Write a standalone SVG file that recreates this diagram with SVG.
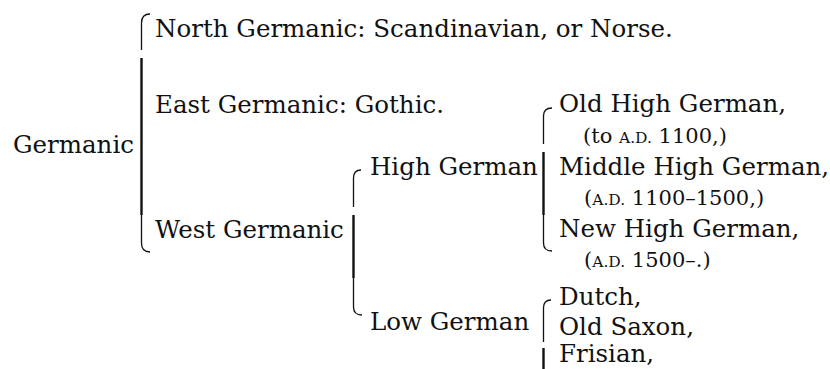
<svg xmlns="http://www.w3.org/2000/svg" width="830" height="369" viewBox="0 0 830 369">
<style>
text{font-family:"DejaVu Serif","Liberation Serif",serif;fill:#111;font-size:24.5px}
.s{font-size:21px}
.sc{font-size:15.5px}
.thin{fill:none;stroke:#111;stroke-width:1.3}
.thick{fill:none;stroke:#111;stroke-width:2.4}
</style>
<rect width="830" height="369" fill="#fff"/>
<g id="connectors">
<g id="brace-germanic">
<path class="thin" d="M150,14 Q141.5,14 141.5,23 L141.5,50"/>
<path class="thick" d="M141.5,58 L141.5,215"/>
<path class="thin" d="M141.5,215 L141.5,243 Q141.5,252 150,252"/>
</g>
<g id="brace-west">
<path class="thin" d="M361,170 Q353.5,170 353.5,178 L353.5,207"/>
<path class="thick" d="M353.5,215 L353.5,278"/>
<path class="thin" d="M353.5,278 L353.5,307 Q353.5,315 362,315"/>
</g>
<g id="brace-high">
<path class="thin" d="M552,108 Q543.5,108 543.5,116 L543.5,144"/>
<path class="thick" d="M543.5,152 L543.5,215"/>
<path class="thin" d="M543.5,215 L543.5,243 Q543.5,251 552,251"/>
</g>
<g id="brace-low">
<path class="thin" d="M551,300 Q543.5,300 543.5,308 L543.5,342"/>
<path class="thick" d="M543.5,348 L543.5,369"/>
</g>
</g>
<g id="germanic"><text x="13" y="153">Germanic</text></g>
<g id="north"><text x="155" y="37">North Germanic: Scandinavian, or Norse.</text></g>
<g id="east"><text x="155" y="113">East Germanic: Gothic.</text></g>
<g id="west"><text x="155" y="238">West Germanic</text></g>
<g id="high-german"><text x="370" y="175">High German</text></g>
<g id="low-german"><text x="370" y="330">Low German</text></g>
<g id="old-high-german">
<text x="559" y="112">Old High German,</text>
<text class="s" x="583" y="143">(to <tspan class="sc">A.D.</tspan> 1100,)</text>
</g>
<g id="middle-high-german">
<text x="559" y="175">Middle High German,</text>
<text class="s" x="584" y="205">(<tspan class="sc">A.D.</tspan> 1100–1500,)</text>
</g>
<g id="new-high-german">
<text x="559" y="237">New High German,</text>
<text class="s" x="584" y="267">(<tspan class="sc">A.D.</tspan> 1500–.)</text>
</g>
<g id="dutch"><text x="559" y="305">Dutch,</text></g>
<g id="old-saxon"><text x="559" y="335">Old Saxon,</text></g>
<g id="frisian"><text x="559" y="362">Frisian,</text></g>
</svg>
